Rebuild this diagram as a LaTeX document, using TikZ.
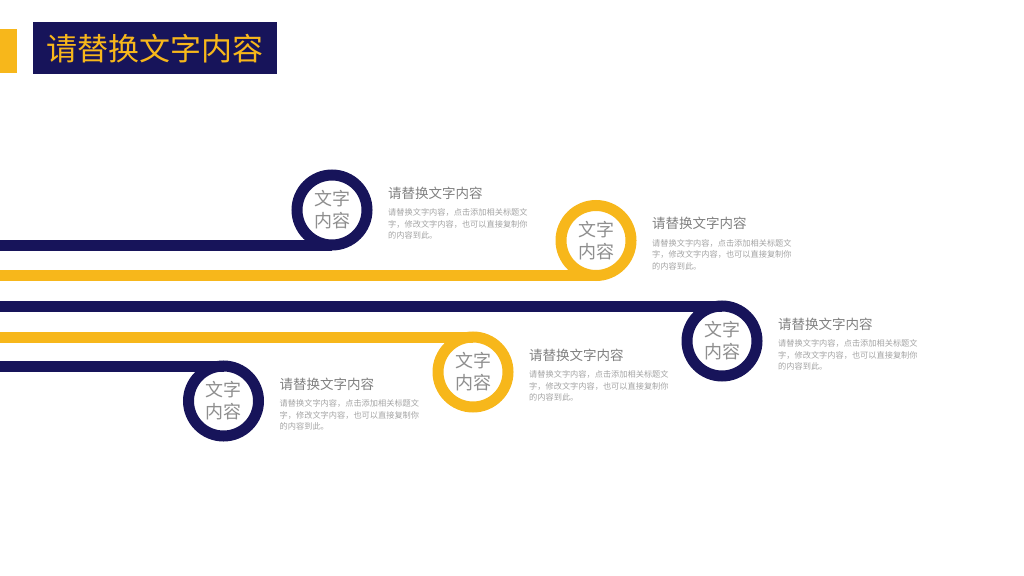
\documentclass[tikz,border=0pt]{standalone}
\usepackage{fontspec}
\newfontfamily\cjk{Noto Sans CJK SC}
\definecolor{navy}{HTML}{17145A}
\definecolor{gold}{HTML}{F7B71B}
\definecolor{headgray}{HTML}{7F7F7F}
\definecolor{bodygray}{HTML}{A3A3A3}
\definecolor{ringtext}{HTML}{8E8E8E}
\tikzset{
  ring/.style={circle, draw=#1, line width=11pt, minimum size=70pt, inner sep=0pt, outer sep=0pt,
    align=center, text=ringtext, font=\cjk\fontsize{18}{22}\selectfont},
  track/.style={draw=#1, line width=11pt},
  headtxt/.style={anchor=west, inner sep=0pt, text=headgray, font=\cjk\fontsize{13.5}{16}\selectfont},
  bodytxt/.style={anchor=west, inner sep=0pt, align=left, text=bodygray, font=\cjk\fontsize{8.2}{11.5}\selectfont},
}
\newcommand{\bodytext}{请替换文字内容，点击添加相关标题文\\字，修改文字内容，也可以直接复制你\\的内容到此。}
\begin{document}
\begin{tikzpicture}[x=1pt,y=-1pt]
\useasboundingbox (0,0) rectangle (1024,575);
% title
\fill[gold] (0,29) rectangle (17,73);
\node[fill=navy, minimum width=244pt, minimum height=52pt, inner sep=0pt, anchor=north west,
  text=gold, font=\cjk\fontsize{31}{34}\selectfont] (title) at (33,22) {请替换文字内容};
% rings
\node[ring=navy] (c1) at (332,210) {文字\\内容};
\node[ring=gold] (c2) at (596,240.5) {文字\\内容};
\node[ring=navy] (c3) at (722,341) {文字\\内容};
\node[ring=gold] (c4) at (473,372) {文字\\内容};
\node[ring=navy] (c5) at (223.5,401) {文字\\内容};
% track start points
\coordinate (s1) at (0,245);
\coordinate (s2) at (0,275.5);
\coordinate (s3) at (0,306);
\coordinate (s4) at (0,337);
\coordinate (s5) at (0,366);
\draw[track=navy] (s1) -- (c1.south);
\draw[track=gold] (s2) -- (c2.south);
\draw[track=navy] (s3) -- (c3.north);
\draw[track=gold] (s4) -- (c4.north);
\draw[track=navy] (s5) -- (c5.north);
% texts
\foreach \c in {c1,c2,c3,c4,c5}{
  \node[headtxt] (h\c) at ([xshift=56pt,yshift=17pt]\c.center) {请替换文字内容};
  \node[bodytxt] (b\c) at ([xshift=56pt,yshift=-14pt]\c.center) {\bodytext};
}
\end{tikzpicture}
\end{document}
